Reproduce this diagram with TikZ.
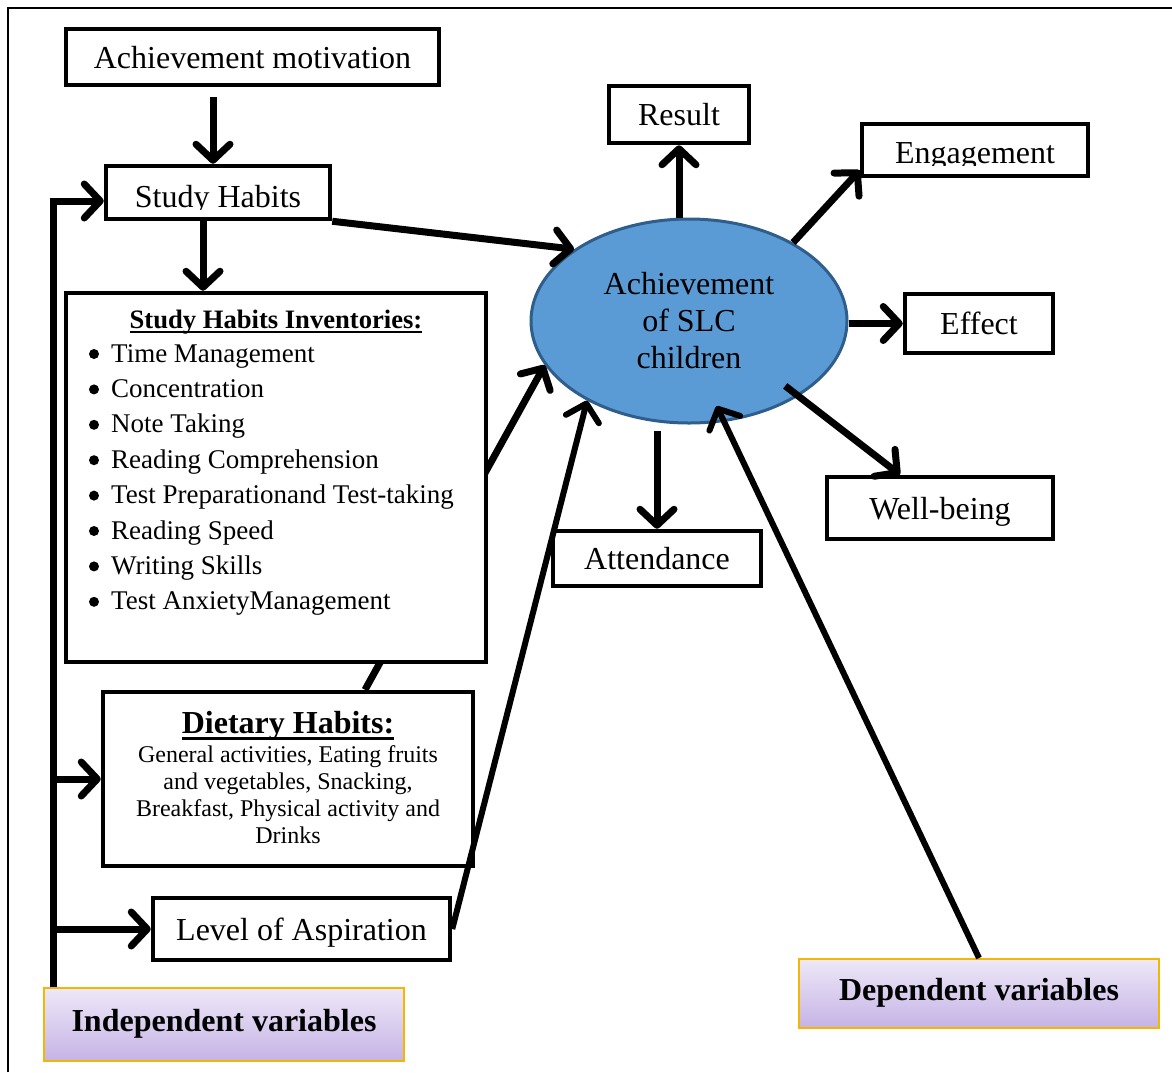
\documentclass[tikz,border=0pt]{standalone}
\usepackage{fontspec}
\setmainfont{Liberation Serif}
\usetikzlibrary{arrows.meta,shapes.geometric,calc}
\definecolor{ellfill}{HTML}{5B9BD5}
\definecolor{elldraw}{HTML}{2F5D8C}
\definecolor{vartop}{HTML}{EEE8F8}
\definecolor{varbot}{HTML}{C5B3E5}
\definecolor{varborder}{HTML}{F2B700}
\newsavebox\ulbox
\newcommand\ulinetext[3]{\sbox\ulbox{#3}\rlap{\rule[-#1]{\wd\ulbox}{#2}}\usebox\ulbox}
\begin{document}
\begin{tikzpicture}[x=1pt,y=-1pt,
  bx/.style={draw, line width=4.5pt, fill=white, inner sep=0pt, rectangle,
    font=\fontsize{32}{37}\selectfont, text height=22pt, text depth=0pt},
  var/.style={draw=varborder, line width=2pt, top color=vartop, bottom color=varbot,
    inner sep=0pt, rectangle, font=\bfseries\fontsize{32}{37}\selectfont,
    text height=22pt, text depth=9pt},
  bigtxt/.style={font=\fontsize{32}{37}\selectfont, inner sep=0pt},
  itemtxt/.style={font=\fontsize{27}{35}\selectfont, inner sep=0pt, anchor=base west},
  bulletdot/.style={circle, fill=black, inner sep=0pt, minimum size=10pt},
  conn/.style={line width=7pt, -{Straight Barb[length=16pt,width=34pt,round]}},
  thinconn/.style={conn, line width=6pt}]
\useasboundingbox (0,0) rectangle (1172,1072);
\draw[line width=2pt] (8,1072) -- (8,8) -- (1172,8);

% central ellipse
\node[ellipse, draw=elldraw, fill=ellfill, line width=3pt, minimum width=316pt,
  minimum height=204pt, inner sep=0pt, font=\fontsize{32}{37}\selectfont, align=center]
  (ach) at (689,321) {Achievement\\of SLC\\children};

% boxes
\node[bx, minimum width=373pt, minimum height=56pt] (am) at (252.5,57) {Achievement motivation};
\node[bx, minimum width=224pt, minimum height=53pt] (sh) at (218,192.5) {};
\begin{scope}
  \clip ([xshift=3pt,yshift=-3pt]sh.north west) rectangle ([xshift=-3pt,yshift=12pt]sh.south east);
  \node[bigtxt, anchor=base] (shtext) at ([yshift=-14.5pt]sh.center) {Study Habits};
\end{scope}
\node[bx, minimum width=140pt, minimum height=57pt] (res) at (679,114.5) {Result};
\node[bx, minimum width=226pt, minimum height=52pt] (eng) at (975,150) {};
\begin{scope}
  \clip ([xshift=3pt,yshift=-3pt]eng.north west) rectangle ([xshift=-3pt,yshift=13pt]eng.south east);
  \node[bigtxt, anchor=base] (engtext) at ([yshift=-13pt]eng.center) {Engagement};
\end{scope}
\node[bx, minimum width=148pt, minimum height=59pt] (eff) at (979,323.5) {Effect};
\node[bx, minimum width=226pt, minimum height=62pt] (wb) at (940,508) {Well-being};
\node[bx, minimum width=208pt, minimum height=55pt] (att) at (657,558.5) {Attendance};
\node[bx, minimum width=297pt, minimum height=62pt] (loa) at (301.5,929) {Level of Aspiration};
\node[bx, minimum width=370pt, minimum height=174pt] (diet) at (288,779) {};
\node[anchor=base, inner sep=0pt, font=\bfseries\fontsize{32}{37}\selectfont] (diettitle) at (288,733)
  {\ulinetext{6.5pt}{2.5pt}{Dietary Habits:}};
\node[anchor=base, inner sep=0pt, font=\fontsize{24}{27.3}\selectfont] (dietbody) at (288,762)
  {\begin{tabular}[t]{@{}c@{}}General activities, Eating fruits\\ and vegetables, Snacking,\\
   Breakfast, Physical activity and\\ Drinks\end{tabular}};
\node[var, minimum width=360pt, minimum height=73pt] (ind) at (224,1024.5) {Independent variables};
\node[var, minimum width=360pt, minimum height=69pt] (dep) at (979,993.5) {Dependent variables};

% dietary connector passes behind the inventories box
\draw[conn] ($(diet.north)+(77,0)$) -- (ach.197);

% inventories box
\node[bx, minimum width=420pt, minimum height=369pt] (inv) at (276,477.5) {};
\node[anchor=base, inner sep=0pt, font=\bfseries\fontsize{26.6}{35}\selectfont] (invtitle) at (276,328)
  {\ulinetext{5pt}{2pt}{Study Habits Inventories:}};
\foreach \t [count=\i] in {Time Management, Concentration, Note Taking, Reading Comprehension,
  Test Preparationand Test-taking, Reading Speed, Writing Skills, Test AnxietyManagement}{
  \node[itemtxt] (item\i) at (111,{362+35.4*(\i-1)}) {\t};
  \node[bulletdot] (bul\i) at (94,{354+35.4*(\i-1)}) {};
}

% connectors
\coordinate (spine) at (53,201);
\coordinate (shinv) at ($(sh.south)+(-15,0)$);
\draw[conn] ($(am.south)+(-39.5,10)$) -- ($(sh.north)+(-5,0)$);
\draw[conn] (shinv) -- (shinv |- inv.north);
\draw[conn] (ind.north -| spine) |- (sh.west |- spine);
\draw[conn] (spine |- diet.west) -- (diet.west);
\draw[conn] (spine |- loa.west) -- (loa.west);
\draw[conn] (sh.south east) -- (ach.148.7);
\draw[thinconn] (loa.east) -- (ach.218);
\draw[thinconn] (dep.north) -- ($(ach.center)!0.84!(ach.-72)$);
\draw[conn] (res.south |- ach.north) -- (res.south);
\draw[conn] (ach.37) -- ([yshift=8pt]eng.south west);
\draw[conn] (ach.east |- eff.west) -- (eff.west);
\draw[conn] ($(ach.center)!0.87!(ach.-34)$) -- ([xshift=-40pt]wb.north);
\draw[conn] ($(att.north |- ach.south)+(0,6)$) -- (att.north);
\end{tikzpicture}
\end{document}
